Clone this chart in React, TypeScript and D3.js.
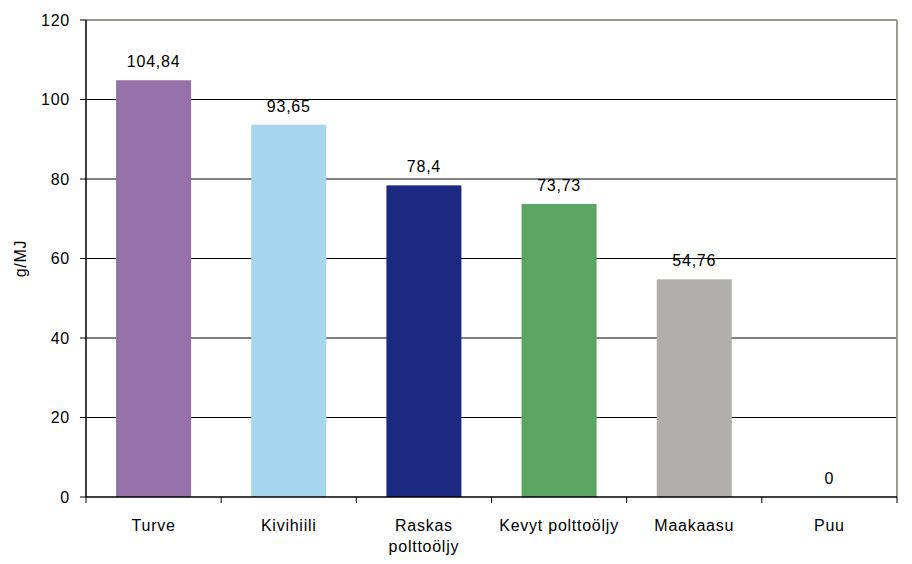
import React from "react";
import { scaleBand, scaleLinear } from "d3";

const categories = ["Turve", "Kivihiili", "Raskas polttoöljy", "Kevyt polttoöljy", "Maakaasu", "Puu"];
// how each category label is broken into lines
const categoryLines = [["Turve"], ["Kivihiili"], ["Raskas", "polttoöljy"], ["Kevyt polttoöljy"], ["Maakaasu"], ["Puu"]];
const values = [104.84, 93.65, 78.4, 73.73, 54.76, 0];
const valueLabels = ["104,84", "93,65", "78,4", "73,73", "54,76", "0"];
const colors = ["#9670A9", "#A6D5EE", "#1B2A80", "#5CA462", "#B1AFAA", "#B1AFAA"];
const yTicks = [0, 20, 40, 60, 80, 100, 120];
const yLabel = "g/MJ";

const width = 912;
const height = 564;
const margin = { top: 20, right: 15, bottom: 67, left: 86 };
const font = "Arial, 'Liberation Sans', sans-serif";
const fs = 16;
const ls = 0.75;

export default function App() {
  const innerW = width - margin.left - margin.right;
  const innerH = height - margin.top - margin.bottom;

  const x = scaleBand<string>()
    .domain(categories)
    .range([0, innerW])
    .paddingInner(0.445)
    .paddingOuter(0.2225);
  const band = innerW / categories.length;

  const y = scaleLinear().domain([0, 120]).range([innerH, 0]);

  return (
    <svg
      width={width}
      height={height}
      style={{ position: "absolute", left: 0, top: 0, background: "#fff" }}
      fontFamily={font}
      letterSpacing={ls}
    >
      <g transform={`translate(${margin.left},${margin.top})`}>
        {/* gridlines */}
        {yTicks.slice(1, -1).map((t) => (
          <line key={t} x1={0} x2={innerW} y1={y(t)} y2={y(t)} stroke="#000" strokeWidth={1} />
        ))}
        {/* top and right frame */}
        <line x1={0} x2={innerW} y1={y(120)} y2={y(120)} stroke="#999990" strokeWidth={2} />
        <line x1={innerW} x2={innerW} y1={y(120)} y2={innerH} stroke="#999990" strokeWidth={2} />

        {/* bars */}
        {categories.map((c, i) => (
          <rect
            key={c}
            x={x(c)}
            y={y(values[i])}
            width={x.bandwidth()}
            height={innerH - y(values[i])}
            fill={colors[i]}
          />
        ))}

        {/* value labels */}
        {categories.map((c, i) => (
          <text
            key={c}
            x={(x(c) as number) + x.bandwidth() / 2}
            y={y(values[i]) - 13}
            textAnchor="middle"
            fontSize={fs}
            fill="#000"
          >
            {valueLabels[i]}
          </text>
        ))}

        {/* y axis */}
        <line x1={0} x2={0} y1={0} y2={innerH} stroke="#000" strokeWidth={1.5} />
        {yTicks.map((t) => (
          <g key={t} transform={`translate(0,${y(t)})`}>
            <line x1={-6} x2={0} stroke="#000" strokeWidth={1} />
            <text x={-16} dy="0.36em" textAnchor="end" fontSize={fs} fill="#000">
              {t}
            </text>
          </g>
        ))}
        <text
          transform={`translate(${20 - margin.left},${innerH / 2}) rotate(-90)`}
          textAnchor="middle"
          dy="0.35em"
          fontSize={fs}
          fill="#000"
        >
          {yLabel}
        </text>

        {/* x axis */}
        <line x1={0} x2={innerW} y1={innerH} y2={innerH} stroke="#000" strokeWidth={1.5} />
        {categories.map((c, i) => (
          <line
            key={c}
            x1={band * (i + 1)}
            x2={band * (i + 1)}
            y1={innerH}
            y2={innerH + 6}
            stroke="#000"
          />
        ))}
        <line x1={0} x2={0} y1={innerH} y2={innerH + 6} stroke="#000" />
        {categories.map((c, i) => (
          <text
            key={c}
            x={(x(c) as number) + x.bandwidth() / 2}
            y={innerH + 34}
            textAnchor="middle"
            fontSize={fs}
            fill="#000"
          >
            {categoryLines[i].map((ln, j) => (
              <tspan key={j} x={(x(c) as number) + x.bandwidth() / 2} dy={j === 0 ? 0 : 21}>
                {ln}
              </tspan>
            ))}
          </text>
        ))}
      </g>
    </svg>
  );
}
